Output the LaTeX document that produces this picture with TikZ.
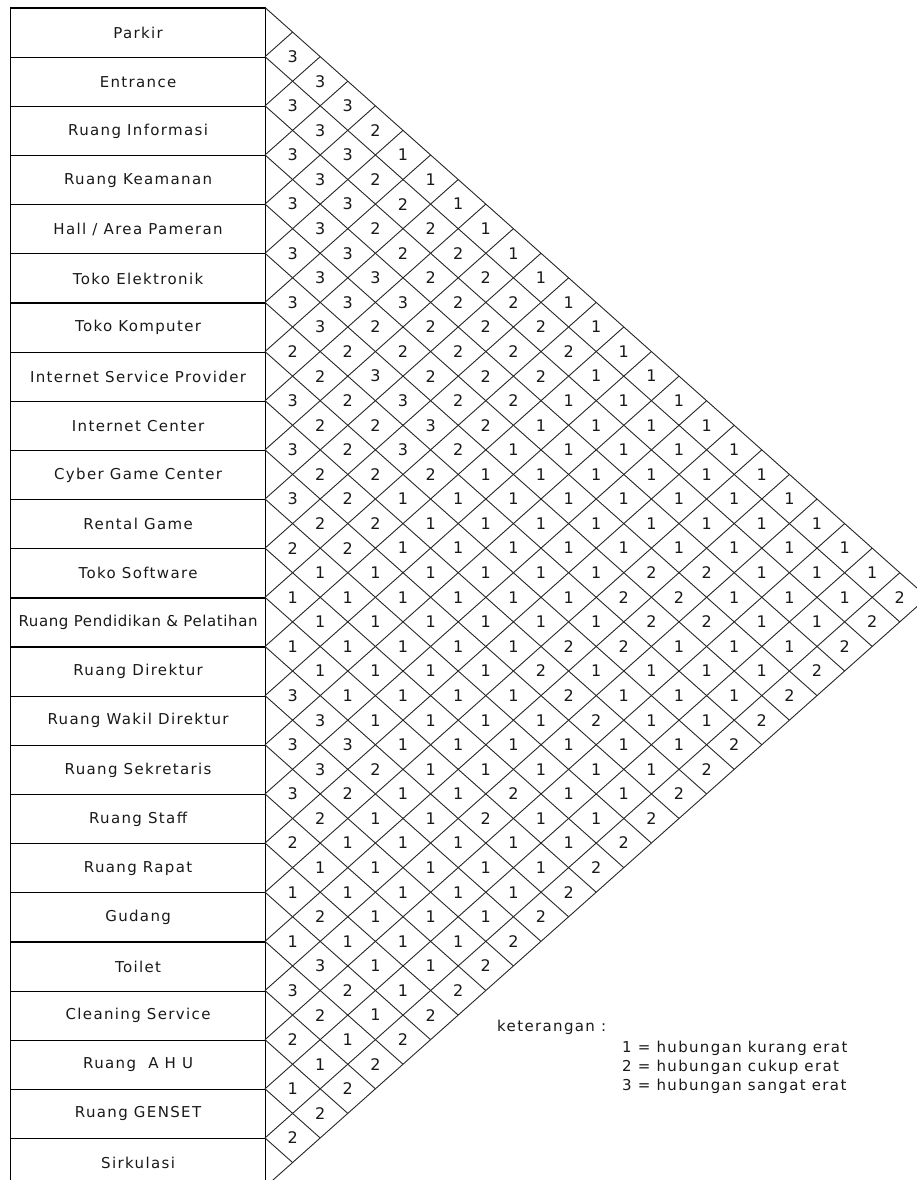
\documentclass[tikz,border=0pt]{standalone}
\usepackage{fontspec}
\setmainfont{DejaVu Sans}
\newfontfamily\labelfont[LetterSpace=9]{DejaVu Sans}
\newfontfamily\tightfont[LetterSpace=4]{DejaVu Sans}
\begin{document}
\begin{tikzpicture}[x=1pt,y=-1pt,
  roomcell/.style={draw=black, line width=1.2pt, minimum width=255pt, minimum height=49.15pt,
    inner sep=0pt, anchor=north west, text=black!90, font=\labelfont\fontsize{15}{18}\selectfont},
  gridline/.style={draw=black!85, line width=0.9pt},
  relnum/.style={inner sep=0pt, text=black!90, font=\fontsize{16}{18}\selectfont},
  legendtext/.style={inner sep=0pt, anchor=west, text=black!90, font=\labelfont\fontsize{15}{17}\selectfont}]
\path[use as bounding box] (0,0) rectangle (917,1180);
\clip (0,0) rectangle (917,1180);
% table of rooms
\foreach \name [count=\i] in {Parkir, Entrance, Ruang Informasi, Ruang Keamanan, Hall / Area Pameran,
  Toko Elektronik, Toko Komputer, Internet Service Provider, Internet Center, Cyber Game Center,
  Rental Game, Toko Software, {\tightfont\fontsize{15}{18}\selectfont Ruang Pendidikan \& Pelatihan}, Ruang Direktur, Ruang Wakil Direktur,
  Ruang Sekretaris, Ruang Staff, Ruang Rapat, Gudang, Toilet, Cleaning Service, Ruang~~A H U,
  Ruang GENSET, Sirkulasi}{
  \node[roomcell] (r\i) at (10,{7.5+(\i-1)*49.15}) {\name};
}
% grid of diamonds
\foreach \k in {0,...,24}{ \coordinate (b\k) at (265,{7.5+49.15*\k}); }
\foreach \k in {0,...,23}{
  \coordinate (dr\k) at ({265+(24-\k)*27.6},{7.5+49.15*\k+(24-\k)*24.575});
  \draw[gridline] (b\k) -- (dr\k);
}
\foreach \k in {1,...,24}{
  \coordinate (ur\k) at ({265+\k*27.6},{7.5+49.15*\k-\k*24.575});
  \draw[gridline] (b\k) -- (ur\k);
}
% relationship values, by level s = i+j, from left to right
\foreach \s/\vals in {
 3/{3}, 4/{3}, 5/{3,3}, 6/{3,2}, 7/{3,3,1}, 8/{3,2,1}, 9/{3,3,2,1}, 10/{3,2,2,1},
 11/{3,3,2,2,1}, 12/{3,3,2,2,1}, 13/{3,3,3,2,2,1}, 14/{3,2,2,2,2,1},
 15/{2,2,2,2,2,2,1}, 16/{2,3,2,2,2,1,1}, 17/{3,2,3,2,2,1,1,1}, 18/{2,2,3,2,1,1,1,1},
 19/{3,2,3,2,1,1,1,1,1}, 20/{2,2,2,1,1,1,1,1,1}, 21/{3,2,1,1,1,1,1,1,1,1},
 22/{2,2,1,1,1,1,1,1,1,1}, 23/{2,2,1,1,1,1,1,1,1,1,1}, 24/{1,1,1,1,1,1,2,2,1,1,1},
 25/{1,1,1,1,1,1,2,2,1,1,1,2}, 26/{1,1,1,1,1,1,2,2,1,1,2}, 27/{1,1,1,1,1,2,2,1,1,1,2},
 28/{1,1,1,1,2,1,1,1,1,2}, 29/{3,1,1,1,1,2,1,1,1,2}, 30/{3,1,1,1,1,2,1,1,2},
 31/{3,3,1,1,1,1,1,1,2}, 32/{3,2,1,1,1,1,1,2}, 33/{3,2,1,1,2,1,1,2}, 34/{2,1,1,2,1,1,2},
 35/{2,1,1,1,1,1,2}, 36/{1,1,1,1,1,2}, 37/{1,1,1,1,1,2}, 38/{2,1,1,1,2}, 39/{1,1,1,1,2},
 40/{3,1,1,2}, 41/{3,2,1,2}, 42/{2,1,2}, 43/{2,1,2}, 44/{1,2}, 45/{1,2}, 46/{2}, 47/{2}}{
  \pgfmathtruncatemacro{\dz}{2-mod(\s,2)}
  \foreach \v [count=\k from 0] in \vals {
    \node[relnum] (n\s-\k) at ({265+(\dz+2*\k)*27.6},{7.5+(\s-1)*24.575}) {\v};
  }
}
% legend
\node[legendtext] (ket) at (497,1027) {keterangan :};
\node[legendtext] (leg1) at (622,1048) {1 = hubungan kurang erat};
\node[legendtext] (leg2) at (622,1067) {2 = hubungan cukup erat};
\node[legendtext] (leg3) at (622,1086) {3 = hubungan sangat erat};
\end{tikzpicture}
\end{document}
